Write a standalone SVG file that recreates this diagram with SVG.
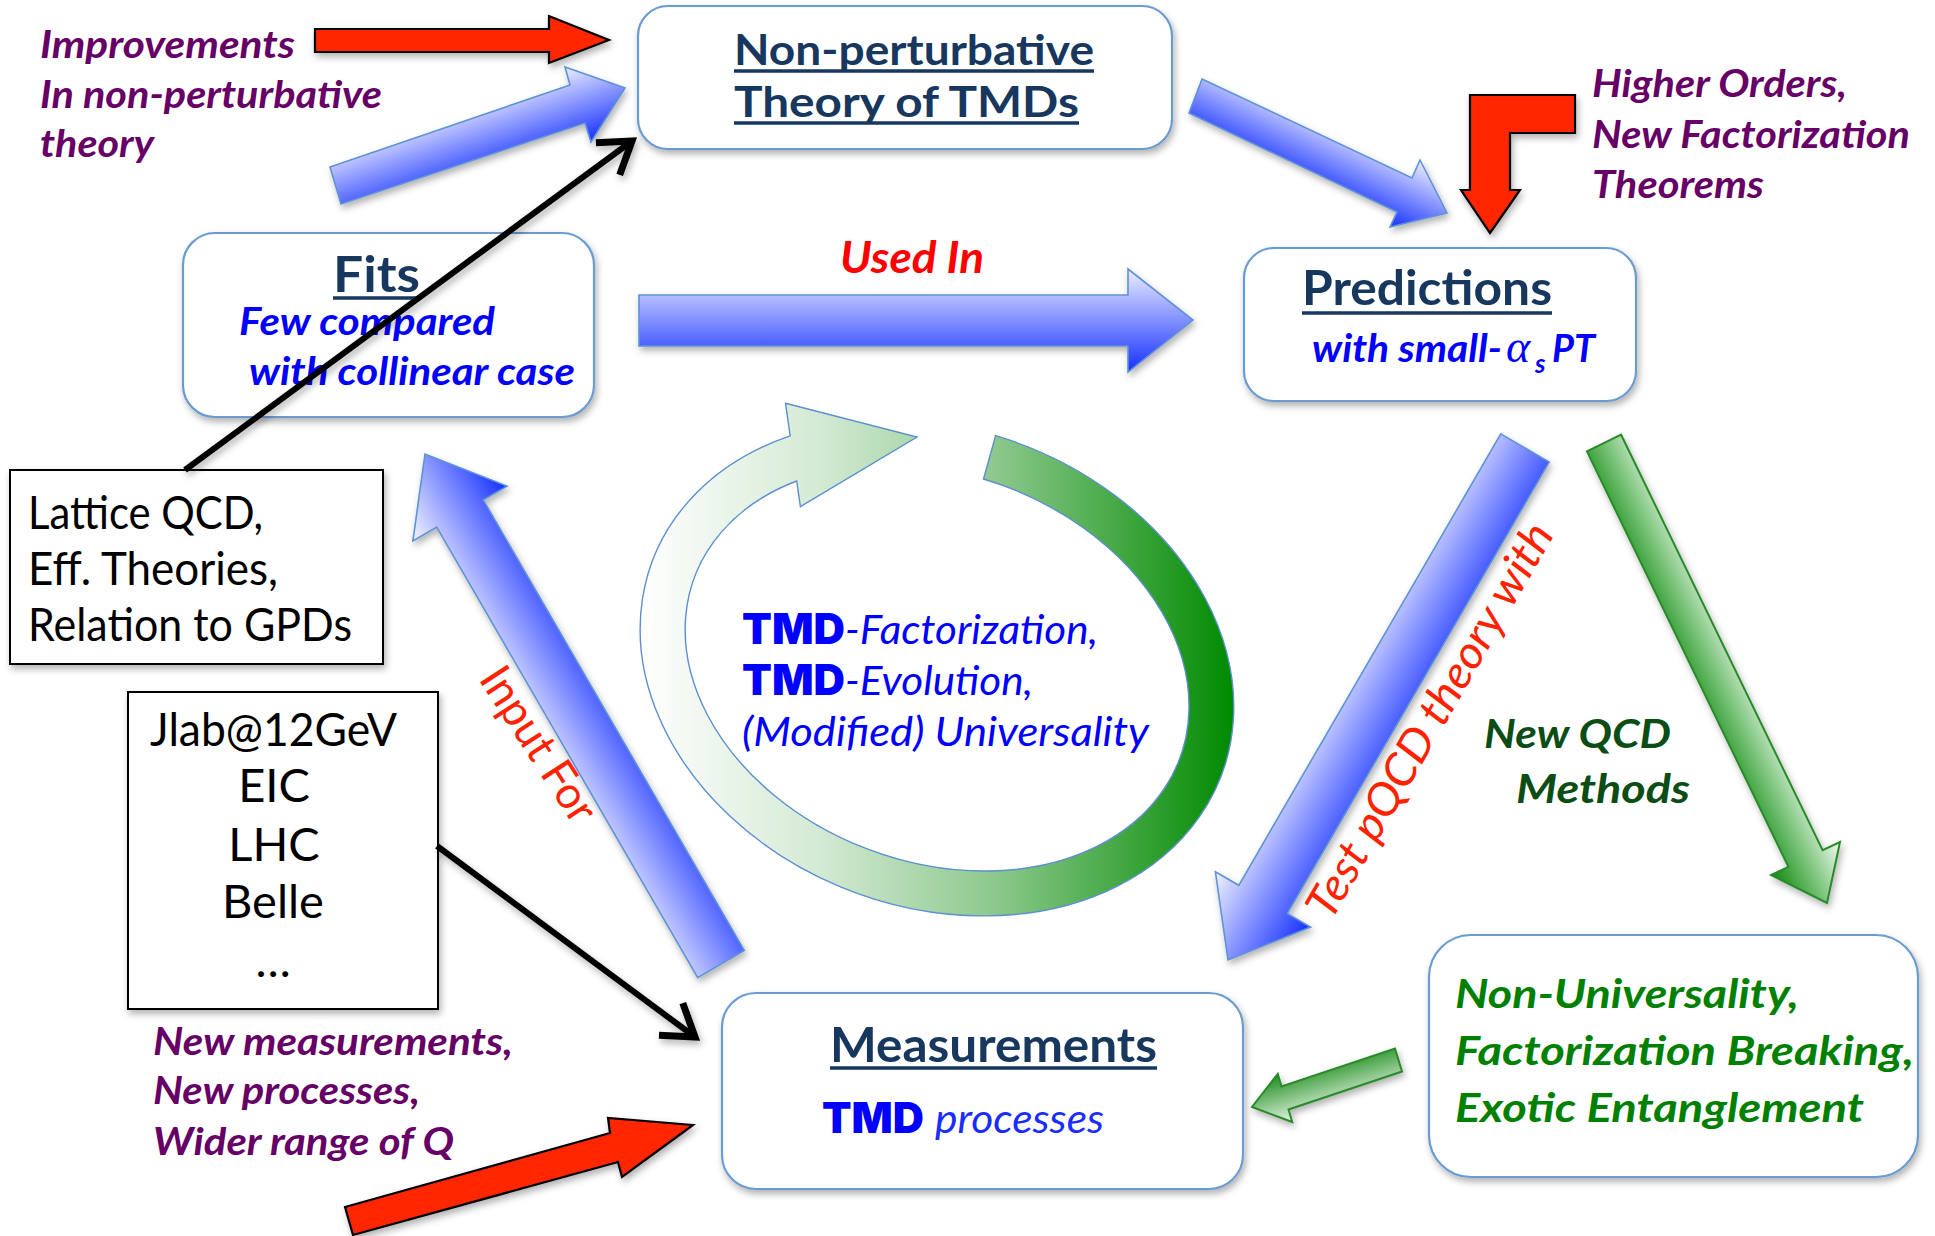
<svg xmlns="http://www.w3.org/2000/svg" width="1935" height="1236" viewBox="0 0 1935 1236">
  <style>
    .box { fill: #ffffff; stroke: #6b9bd2; stroke-width: 2.2; }
    .sqbox { fill: #ffffff; stroke: #000000; stroke-width: 2; }
    .title { font-family: Lato, "Liberation Sans", sans-serif; font-weight: 700; fill: #17375e; }
    .uline { stroke: #17375e; stroke-width: 3.5; }
    .purple { font-family: Lato, "Liberation Sans", sans-serif; font-weight: 700; font-style: italic; font-size: 38px; fill: #660066; }
    .blue { font-family: Lato, "Liberation Sans", sans-serif; font-weight: 700; font-style: italic; font-size: 39px; fill: #0000ff; }
    .blueit { font-family: Lato, "Liberation Sans", sans-serif; font-style: italic; font-size: 40px; fill: #0000ff; }
    .heavy { font-family: Inter, Roboto, "Liberation Sans", sans-serif; font-weight: 900; font-size: 42px; fill: #0000ff; }
    .plain { font-family: Lato, "Liberation Sans", sans-serif; font-size: 47px; fill: #000000; }
    .green { font-family: Lato, "Liberation Sans", sans-serif; font-weight: 700; font-style: italic; font-size: 40px; fill: #008000; }
    .dkgreen { font-family: Lato, "Liberation Sans", sans-serif; font-weight: 700; font-style: italic; font-size: 40px; fill: #0b4d14; }
    .red { font-family: Lato, "Liberation Sans", sans-serif; font-size: 45px; fill: #ff2200; }
    .redarrow { fill: #ff2600; stroke: #000000; stroke-width: 2.2; stroke-linejoin: miter; }
    .bluearrow { stroke: #5f93d6; stroke-width: 1.6; }
    .greenarrow { stroke: #2a8a2a; stroke-width: 2; }
    .pointer { fill: none; stroke: #000000; stroke-width: 6; }
  </style>
  <defs>
    <filter id="shadow" x="-20%" y="-20%" width="140%" height="150%">
      <feDropShadow dx="2" dy="4" stdDeviation="3.5" flood-color="#000000" flood-opacity="0.3"/>
    </filter>
    <marker id="openHead" markerUnits="userSpaceOnUse" markerWidth="44" markerHeight="52" viewBox="-36 -26 44 52" refX="0" refY="0" orient="auto" overflow="visible">
      <path d="M-30,-20 L0,0 L-30,20" fill="none" stroke="#000000" stroke-width="7"/>
    </marker>
    <!-- blue arrow fills run across the arrow width: pale on one side, strong blue on the other -->
    <linearGradient id="gUsed" gradientUnits="userSpaceOnUse" x1="0" y1="269" x2="0" y2="372">
      <stop offset="0" stop-color="#eceeff"/>
      <stop offset="1" stop-color="#1530ff"/>
    </linearGradient>
    <linearGradient id="gTopLeft" gradientUnits="userSpaceOnUse" x1="565" y1="67" x2="591" y2="142">
      <stop offset="0" stop-color="#eceeff"/>
      <stop offset="1" stop-color="#1530ff"/>
    </linearGradient>
    <linearGradient id="gTopRight" gradientUnits="userSpaceOnUse" x1="1421" y1="160" x2="1389" y2="227">
      <stop offset="0" stop-color="#eceeff"/>
      <stop offset="1" stop-color="#1530ff"/>
    </linearGradient>
    <linearGradient id="gTest" gradientUnits="userSpaceOnUse" x1="1215" y1="872" x2="1311" y2="927">
      <stop offset="0" stop-color="#f2f3ff"/>
      <stop offset="1" stop-color="#1530ff"/>
    </linearGradient>
    <linearGradient id="gInput" gradientUnits="userSpaceOnUse" x1="413" y1="541" x2="507" y2="486">
      <stop offset="0" stop-color="#f2f3ff"/>
      <stop offset="1" stop-color="#1530ff"/>
    </linearGradient>
    <linearGradient id="gNewQcd" gradientUnits="userSpaceOnUse" x1="1771" y1="875" x2="1840" y2="842">
      <stop offset="0" stop-color="#108a10"/>
      <stop offset="0.5" stop-color="#7cc47c"/>
      <stop offset="1" stop-color="#f2faf2"/>
    </linearGradient>
    <linearGradient id="gBack" gradientUnits="userSpaceOnUse" x1="1278" y1="1074" x2="1292" y2="1122">
      <stop offset="0" stop-color="#1e8e1e"/>
      <stop offset="1" stop-color="#e6f4e6"/>
    </linearGradient>
    <linearGradient id="gCycle" gradientUnits="userSpaceOnUse" x1="640" y1="0" x2="1234" y2="0">
      <stop offset="0" stop-color="#ffffff"/>
      <stop offset="0.3" stop-color="#d4ead4"/>
      <stop offset="0.6" stop-color="#8cc88c"/>
      <stop offset="1" stop-color="#008a00"/>
    </linearGradient>
  </defs>

  <rect x="0" y="0" width="1935" height="1236" fill="#ffffff"/>

  <!-- central cycle -->
  <g id="cycle">
    <path d="M 995.6 435.7 A 304 239 20.5 1 1 790.2 435.9 L 785.5 403.2 L 917 437 L 800.4 506.7 L 796.7 481 A 259 194 20.5 1 0 983.5 479 Z" fill="url(#gCycle)" stroke="#5b8fd0" stroke-width="1.4"/>
    <text class="heavy" x="742" y="644" textLength="103" lengthAdjust="spacingAndGlyphs">TMD</text>
    <text class="blueit" x="845" y="644" textLength="253" lengthAdjust="spacingAndGlyphs">-Factorization,</text>
    <text class="heavy" x="742" y="695" textLength="103" lengthAdjust="spacingAndGlyphs">TMD</text>
    <text class="blueit" x="845" y="695" textLength="188" lengthAdjust="spacingAndGlyphs">-Evolution,</text>
    <text class="blueit" x="742" y="746" textLength="407" lengthAdjust="spacingAndGlyphs">(Modified) Universality</text>
  </g>

  <!-- side notes -->
  <g id="note-improvements">
    <text class="purple" x="40" y="58" textLength="255" lengthAdjust="spacingAndGlyphs">Improvements</text>
    <text class="purple" x="40" y="108" textLength="342" lengthAdjust="spacingAndGlyphs">In non-perturbative</text>
    <text class="purple" x="40" y="157" textLength="114" lengthAdjust="spacingAndGlyphs">theory</text>
  </g>
  <g id="note-higher-orders">
    <text class="purple" x="1592" y="97" textLength="255" lengthAdjust="spacingAndGlyphs">Higher Orders,</text>
    <text class="purple" x="1592" y="148" textLength="318" lengthAdjust="spacingAndGlyphs">New Factorization</text>
    <text class="purple" x="1592" y="198" textLength="172" lengthAdjust="spacingAndGlyphs">Theorems</text>
  </g>
  <g id="note-new-measurements">
    <text class="purple" x="153" y="1055" textLength="360" lengthAdjust="spacingAndGlyphs">New measurements,</text>
    <text class="purple" x="153" y="1104" textLength="267" lengthAdjust="spacingAndGlyphs">New processes,</text>
    <text class="purple" x="153" y="1155" textLength="301" lengthAdjust="spacingAndGlyphs">Wider range of Q</text>
  </g>

  <!-- nodes -->
  <g id="node-nonperturbative">
    <rect class="box" filter="url(#shadow)" x="638" y="6" width="534" height="143" rx="30"/>
    <text class="title" x="734" y="65" font-size="42" textLength="360" lengthAdjust="spacingAndGlyphs">Non-perturbative</text>
    <line class="uline" x1="734" y1="71" x2="1094" y2="71"/>
    <text class="title" x="734" y="117" font-size="42" textLength="345" lengthAdjust="spacingAndGlyphs">Theory of TMDs</text>
    <line class="uline" x1="734" y1="123" x2="1079" y2="123"/>
  </g>

  <g id="node-fits">
    <rect class="box" filter="url(#shadow)" x="183" y="233" width="411" height="184" rx="32"/>
    <text class="title" x="333" y="292" font-size="50" textLength="87" lengthAdjust="spacingAndGlyphs">Fits</text>
    <line class="uline" x1="333" y1="298" x2="420" y2="298"/>
    <text class="blue" x="239" y="335" textLength="256" lengthAdjust="spacingAndGlyphs">Few compared</text>
    <text class="blue" x="249" y="385" textLength="326" lengthAdjust="spacingAndGlyphs">with collinear case</text>
  </g>

  <g id="node-predictions">
    <rect class="box" filter="url(#shadow)" x="1244" y="248" width="392" height="153" rx="30"/>
    <text class="title" x="1302" y="305" font-size="48" textLength="250" lengthAdjust="spacingAndGlyphs">Predictions</text>
    <line class="uline" x1="1302" y1="313" x2="1552" y2="313"/>
    <text class="blue" x="1312" y="362" textLength="190" lengthAdjust="spacingAndGlyphs">with small-</text>
    <text x="1506" y="362" style="font-family: 'Liberation Serif', serif; font-style: italic; font-size: 46px; fill: #0000ff;">α</text>
    <text x="1535" y="373" style="font-family: Lato, 'Liberation Sans', sans-serif; font-weight: 700; font-style: italic; font-size: 26px; fill: #0000ff;">s</text>
    <text class="blue" x="1552" y="362" textLength="43" lengthAdjust="spacingAndGlyphs">PT</text>
  </g>

  <g id="node-lattice">
    <rect class="sqbox" filter="url(#shadow)" x="10" y="470" width="373" height="194"/>
    <text class="plain" x="28" y="529" textLength="235" lengthAdjust="spacingAndGlyphs">Lattice QCD,</text>
    <text class="plain" x="28" y="585" textLength="250" lengthAdjust="spacingAndGlyphs">Eff. Theories,</text>
    <text class="plain" x="28" y="641" textLength="324" lengthAdjust="spacingAndGlyphs">Relation to GPDs</text>
  </g>

  <g id="node-experiments">
    <rect class="sqbox" filter="url(#shadow)" x="128" y="692" width="310" height="317"/>
    <text class="plain" x="150" y="746" textLength="247" lengthAdjust="spacingAndGlyphs">Jlab@12GeV</text>
    <text class="plain" x="274" y="802" text-anchor="middle">EIC</text>
    <text class="plain" x="274" y="861" text-anchor="middle">LHC</text>
    <text class="plain" x="273" y="918" text-anchor="middle">Belle</text>
    <text class="plain" x="273" y="977" text-anchor="middle">…</text>
  </g>

  <g id="node-measurements">
    <rect class="box" filter="url(#shadow)" x="722" y="993" width="521" height="196" rx="34"/>
    <text class="title" x="830" y="1062" font-size="48" textLength="327" lengthAdjust="spacingAndGlyphs">Measurements</text>
    <line class="uline" x1="830" y1="1068" x2="1157" y2="1068"/>
    <text class="heavy" x="822" y="1133" textLength="102" lengthAdjust="spacingAndGlyphs">TMD</text>
    <text class="blueit" x="935" y="1133" textLength="169" lengthAdjust="spacingAndGlyphs" style="fill: #1a2cff;">processes</text>
  </g>

  <g id="node-nonuniversality">
    <rect class="box" filter="url(#shadow)" x="1429" y="935" width="489" height="242" rx="42"/>
    <text class="green" x="1455" y="1008" textLength="344" lengthAdjust="spacingAndGlyphs">Non-Universality,</text>
    <text class="green" x="1455" y="1065" textLength="459" lengthAdjust="spacingAndGlyphs">Factorization Breaking,</text>
    <text class="green" x="1455" y="1122" textLength="409" lengthAdjust="spacingAndGlyphs">Exotic Entanglement</text>
  </g>

  <!-- connectors, drawn over the nodes -->
  <g id="connectors">
    <!-- red input arrows -->
    <polygon class="redarrow" filter="url(#shadow)" points="315,29 549,29 549,16 609,40 549,63 549,52 315,52"/>
    <polygon class="redarrow" filter="url(#shadow)" points="1470,95 1575,95 1575,133 1510,133 1510,190 1520,190 1490,233 1461,190 1470,190"/>
    <polygon class="redarrow" filter="url(#shadow)" points="345,1207 610,1133 608,1118 693,1125 622,1177 618,1162 353,1235"/>

    <!-- blue flow arrows -->
    <polygon class="bluearrow" fill="url(#gTopLeft)" filter="url(#shadow)" points="330,167 570,85 565,67 625,88 591,142 585,123 341,204"/>
    <polygon class="bluearrow" fill="url(#gTopRight)" filter="url(#shadow)" points="1202,79 1412,178 1420,160 1447,213 1390,227 1397,212 1189,113"/>
    <polygon class="bluearrow" fill="url(#gUsed)" filter="url(#shadow)" points="639,295 1128,295 1128,269 1193,320 1128,372 1128,346 639,346"/>
    <polygon class="bluearrow" fill="url(#gTest)" filter="url(#shadow)" points="1500.8,433.9 1549.2,462.1 1287.2,913.5 1310.6,927 1228,960 1215.4,871.8 1238.8,885.3"/>
    <polygon class="bluearrow" fill="url(#gInput)" filter="url(#shadow)" points="697.7,977.6 744.3,950.4 483.3,499.9 507.1,486.1 425,454 412.9,540.9 436.7,527.1"/>

    <!-- green arrows -->
    <polygon class="greenarrow" fill="url(#gNewQcd)" filter="url(#shadow)" points="1586.9,451.3 1621.1,434.7 1822.6,850.2 1840,842 1827,903 1771,875 1788.4,866.8"/>
    <polygon class="greenarrow" fill="url(#gBack)" filter="url(#shadow)" points="1395,1048.5 1402,1071.5 1288.5,1109.5 1292.2,1122 1252,1107 1277.8,1074 1281.5,1086.5"/>

    <!-- black pointers -->
    <line class="pointer" filter="url(#shadow)" x1="185" y1="470" x2="632" y2="141" marker-end="url(#openHead)"/>
    <line class="pointer" filter="url(#shadow)" x1="437" y1="846" x2="695" y2="1037" marker-end="url(#openHead)"/>

    <!-- connector labels -->
    <text x="840" y="273" textLength="144" lengthAdjust="spacingAndGlyphs" style="font-family: Lato, 'Liberation Sans', sans-serif; font-weight: 700; font-style: italic; font-size: 44px; fill: #ff0000;">Used In</text>
    <text class="red" font-style="italic" transform="translate(1331,922) rotate(-60)" x="0" y="0" textLength="448" lengthAdjust="spacingAndGlyphs">Test pQCD theory with</text>
    <text class="red" transform="translate(478,679) rotate(57)" x="0" y="0" textLength="176" lengthAdjust="spacingAndGlyphs">Input For</text>
    <text class="dkgreen" x="1484" y="748" textLength="187" lengthAdjust="spacingAndGlyphs">New QCD</text>
    <text class="dkgreen" x="1516" y="803" textLength="174" lengthAdjust="spacingAndGlyphs">Methods</text>
  </g>
</svg>
